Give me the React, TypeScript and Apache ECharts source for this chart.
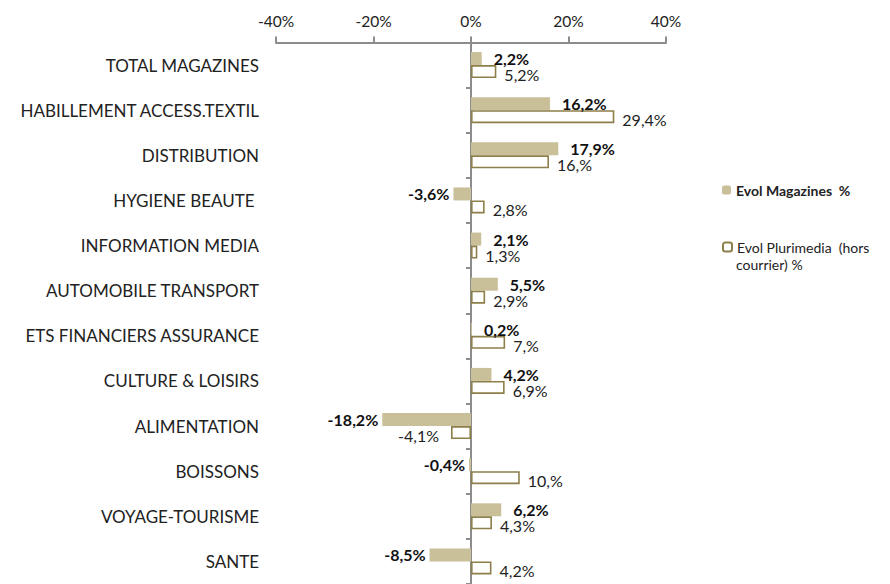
import React, { useEffect, useRef } from "react";
import * as echarts from "echarts";

const categories = [
  "TOTAL MAGAZINES",
  "HABILLEMENT ACCESS.TEXTIL",
  "DISTRIBUTION",
  "HYGIENE BEAUTE ",
  "INFORMATION MEDIA",
  "AUTOMOBILE TRANSPORT",
  "ETS FINANCIERS ASSURANCE",
  "CULTURE & LOISIRS",
  "ALIMENTATION",
  "BOISSONS",
  "VOYAGE-TOURISME",
  "SANTE",
];
const magazines = [2.2, 16.2, 17.9, -3.6, 2.1, 5.5, 0.2, 4.2, -18.2, -0.4, 6.2, -8.5];
const plurimedia = [5.2, 29.4, 16.0, 2.8, 1.3, 2.9, 7.0, 6.9, -4.1, 10.0, 4.3, 4.2];
const xTicks = { min: -40, max: 40, interval: 20 };
const seriesNames = ["Evol Magazines  %", "Evol Plurimedia  (hors courrier) %"];

const FONT = "Lato";

function fmtMag(v: number) {
  return v.toFixed(1).replace(".", ",") + "%";
}
function fmtPluri(v: number) {
  return Number.isInteger(v) ? `${v},%` : String(v).replace(".", ",") + "%";
}

export default function App() {
  const ref = useRef<HTMLDivElement>(null);
  useEffect(() => {
    if (!ref.current) return;
    const chart = echarts.init(ref.current, undefined, { renderer: "svg" });
    const axisColor = "#8c8c8c";
    chart.setOption({
      animation: false,
      textStyle: { fontFamily: FONT },
      grid: { left: 276, right: 224, top: 42.5, bottom: -4.5, containLabel: false },
      xAxis: {
        type: "value",
        position: "top",
        min: xTicks.min,
        max: xTicks.max,
        interval: xTicks.interval,
        axisLine: { show: true, lineStyle: { color: axisColor, width: 2 } },
        axisTick: { show: true, length: 6, lineStyle: { color: axisColor, width: 2 } },
        splitLine: { show: false },
        axisLabel: { formatter: "{value}%", fontSize: 15.5, color: "#222", margin: 14, fontFamily: FONT },
      },
      yAxis: [
        {
          type: "category",
          inverse: true,
          data: categories,
          position: "left",
          axisLine: { show: false, onZero: false },
          axisTick: { show: false },
          axisLabel: { fontSize: 17, color: "#222", margin: 17, fontFamily: FONT },
        },
        {
          type: "category",
          inverse: true,
          data: categories,
          position: "left",
          axisLine: { show: true, onZero: true, lineStyle: { color: axisColor, width: 2 } },
          axisTick: { show: true, length: 5, lineStyle: { color: axisColor, width: 2 } },
          axisLabel: { show: false },
        },
      ],
      legend: [
        {
          data: [{ name: seriesNames[0], textStyle: { fontWeight: "bold" } }],
          left: 722,
          top: 183,
          padding: 0,
          itemWidth: 9,
          itemHeight: 9,
          selectedMode: false,
          textStyle: { fontSize: 14, color: "#222", fontFamily: FONT },
        },
        {
          data: [{ name: seriesNames[1] }],
          formatter: () => "Evol Plurimedia  (hors",
          left: 722,
          top: 240,
          padding: 0,
          itemWidth: 9,
          itemHeight: 9,
          selectedMode: false,
          textStyle: { fontSize: 14, color: "#222", fontFamily: FONT },
        },
      ],
      graphic: [
        {
          type: "text",
          left: 736,
          top: 257,
          style: { text: "courrier) %", fontSize: 14, fill: "#222", fontFamily: FONT },
        },
      ],
      series: [
        {
          name: seriesNames[0],
          type: "bar",
          yAxisIndex: 0,
          barWidth: 13,
          barGap: "0%",
          itemStyle: { color: "#c9bf99" },
          data: magazines.map((v) => ({
            value: v,
            label: {
              show: true,
              position: v >= 0 ? "right" : "left",
              distance: v >= 0 ? 12 : 4,
              formatter: fmtMag(v),
              fontWeight: "bold",
              fontSize: 16,
              color: "#111",
              fontFamily: FONT,
            },
          })),
        },
        {
          name: seriesNames[1],
          type: "bar",
          yAxisIndex: 0,
          barWidth: 13,
          barGap: "0%",
          itemStyle: { color: "#ffffff", borderColor: "#8d7f4a", borderWidth: 1.6 },
          data: plurimedia.map((v) => ({
            value: v,
            label: {
              show: true,
              position: v >= 0 ? "right" : "left",
              distance: v >= 0 ? 8 : 12,
              offset: [0, 3],
              formatter: fmtPluri(v),
              fontSize: 16,
              color: "#222",
              fontFamily: FONT,
            },
          })),
        },
      ],
    });
    return () => chart.dispose();
  }, []);
  return (
    <div
      ref={ref}
      style={{ position: "fixed", left: 0, top: 0, width: 890, height: 584, background: "#fff" }}
    />
  );
}
